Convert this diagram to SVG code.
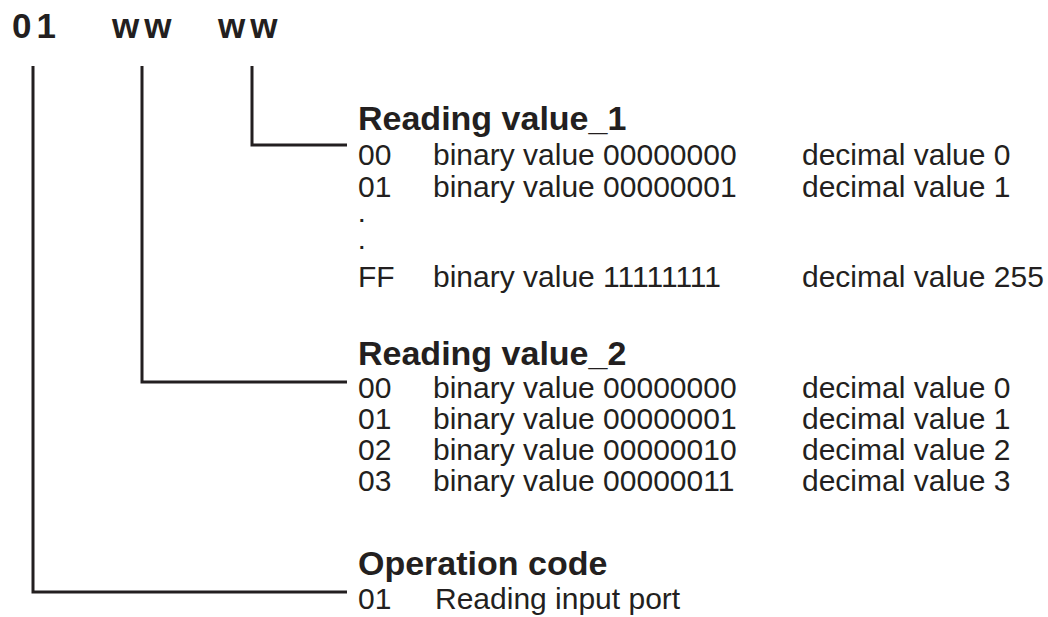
<svg xmlns="http://www.w3.org/2000/svg" width="1048" height="617" viewBox="0 0 1048 617">
<style>
.h{font-family:"Liberation Sans",Arial,sans-serif;font-weight:bold;font-size:35px;fill:#231f20;letter-spacing:5px}
.t{font-family:"Liberation Sans",Arial,sans-serif;font-weight:bold;font-size:34px;fill:#231f20}
.r{font-family:"Liberation Sans",Arial,sans-serif;font-size:30px;fill:#231f20}
.d{font-family:"Liberation Sans",Arial,sans-serif;font-weight:bold;font-size:20px;fill:#231f20}
.c{fill:none;stroke:#231f20;stroke-width:3}
</style>
<rect width="1048" height="617" fill="#fff"/>
<g id="header">
<text class="h" x="12" y="38">01</text>
<text class="h" x="112" y="38">ww</text>
<text class="h" x="218" y="38">ww</text>
</g>
<g id="connectors">
<polyline class="c" points="252,66 252,145 347,145"/>
<polyline class="c" points="142,66 142,382 347,382"/>
<polyline class="c" points="33,66 33,592 347,592"/>
</g>
<g id="value1">
<text class="t" x="358" y="130">Reading value_1</text>
<text class="r" x="358" y="165">00</text><text class="r" x="433" y="165">binary value 00000000</text><text class="r" x="802" y="165">decimal value 0</text>
<text class="r" x="358" y="197">01</text><text class="r" x="433" y="197">binary value 00000001</text><text class="r" x="802" y="197">decimal value 1</text>
<text class="d" x="359" y="222">.</text>
<text class="d" x="359" y="249">.</text>
<text class="r" x="358" y="287">FF</text><text class="r" x="433" y="287">binary value 11111111</text><text class="r" x="802" y="287">decimal value 255</text>
</g>
<g id="value2">
<text class="t" x="358" y="365">Reading value_2</text>
<text class="r" x="358" y="398">00</text><text class="r" x="433" y="398">binary value 00000000</text><text class="r" x="802" y="398">decimal value 0</text>
<text class="r" x="358" y="429">01</text><text class="r" x="433" y="429">binary value 00000001</text><text class="r" x="802" y="429">decimal value 1</text>
<text class="r" x="358" y="460">02</text><text class="r" x="433" y="460">binary value 00000010</text><text class="r" x="802" y="460">decimal value 2</text>
<text class="r" x="358" y="491">03</text><text class="r" x="433" y="491">binary value 00000011</text><text class="r" x="802" y="491">decimal value 3</text>
</g>
<g id="opcode">
<text class="t" x="358" y="575">Operation code</text>
<text class="r" x="358" y="609">01</text><text class="r" x="435" y="609">Reading input port</text>
</g>
</svg>
